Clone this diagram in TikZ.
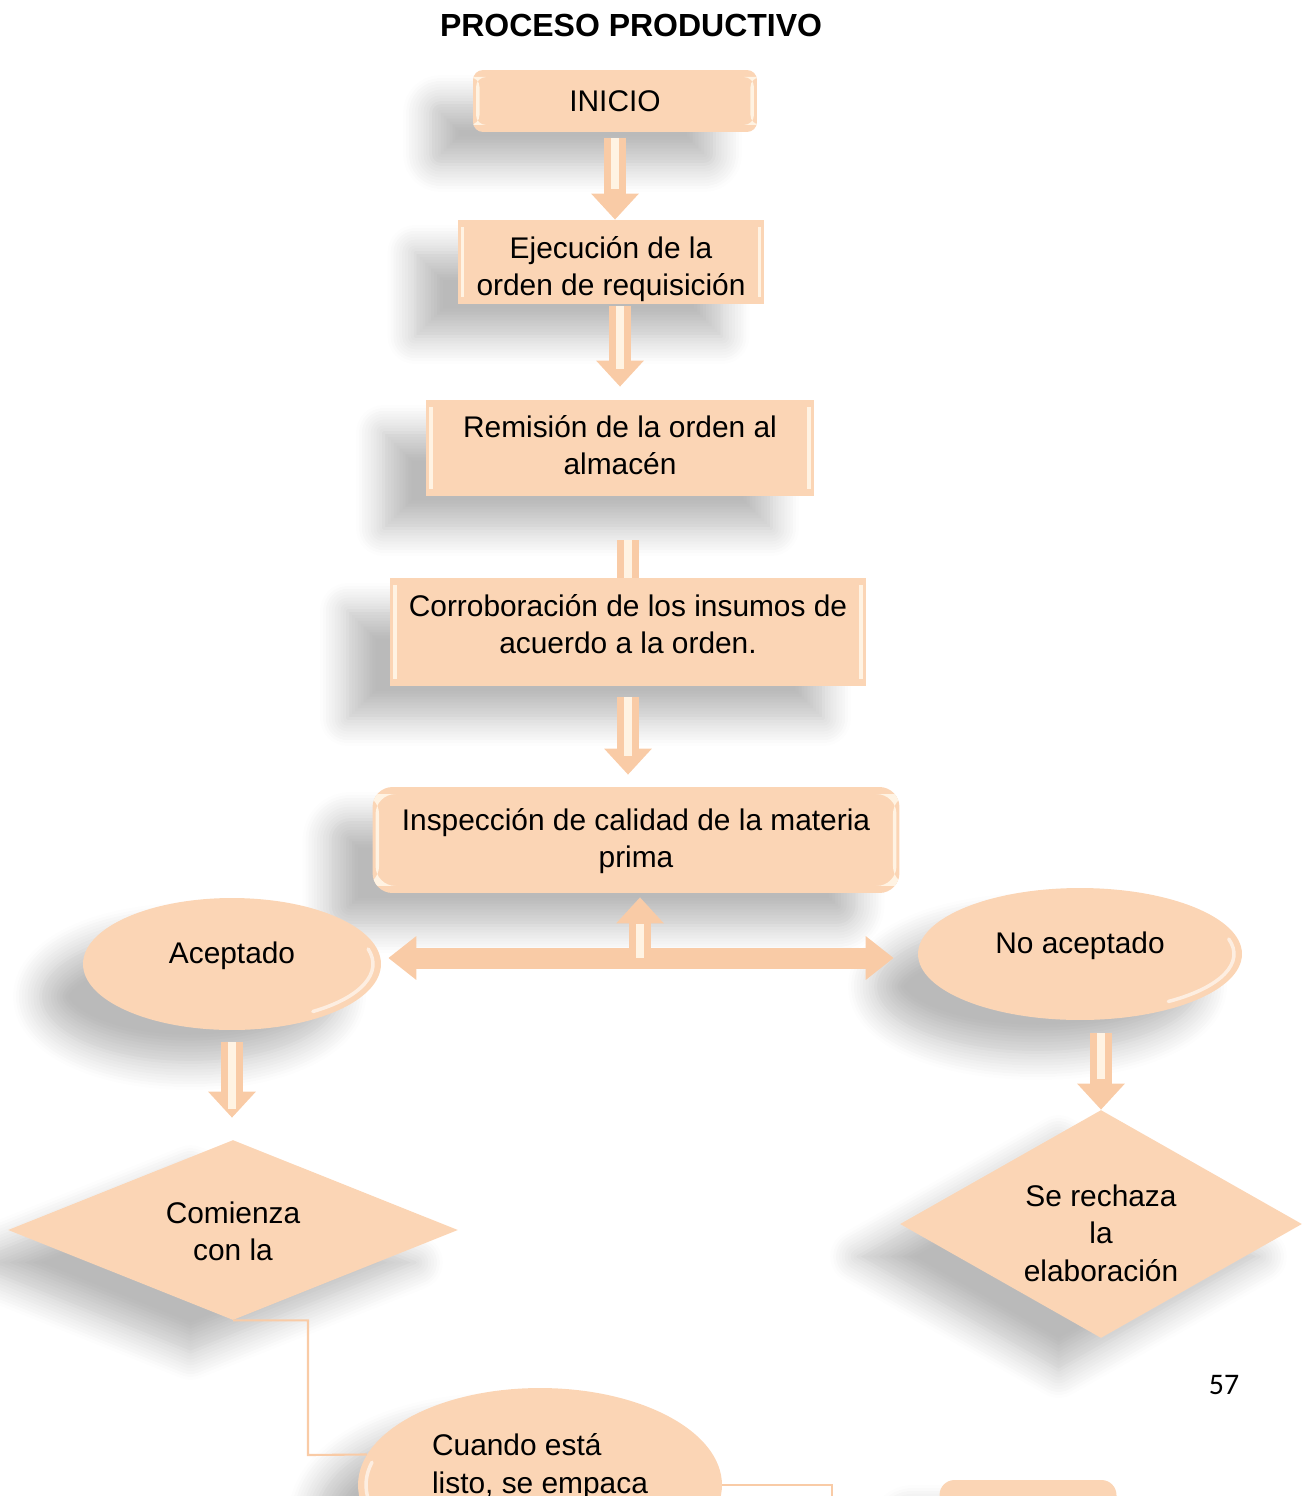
\documentclass[tikz,border=0pt]{standalone}
\usepackage{fontspec}
\setmainfont{Liberation Sans}
\newfontfamily\pagefont{Carlito}
\usetikzlibrary{shapes.geometric,shadows.blur,arrows.meta}

\definecolor{peach}{HTML}{FBD5B5}
\definecolor{peachd}{HTML}{F9CBA6}
\definecolor{cream}{HTML}{FFF3E3}

% texto de nodo desplazado en vertical
\newcommand\nodetext[3][c]{\raisebox{#2}[0pt][0pt]{\begin{tabular}{@{}#1@{}}#3\end{tabular}}}

\tikzset{
  flowbox/.style={fill=peach, draw=none, align=center, inner sep=0pt,
    font=\fontsize{17}{21.2}\selectfont,
    blur shadow={shadow xshift=-0.85cm, shadow yshift=-0.65cm,
      shadow blur radius=0.55cm, shadow blur steps=10, shadow opacity=27}},
  bevel/.style={path picture={
    \fill[cream] ([xshift=0.06cm,yshift=0.14cm]path picture bounding box.south west)
      rectangle ([xshift=0.13cm,yshift=-0.14cm]path picture bounding box.north west);
    \fill[cream] ([xshift=-0.13cm,yshift=0.14cm]path picture bounding box.south east)
      rectangle ([xshift=-0.06cm,yshift=-0.14cm]path picture bounding box.north east);}},
  gloss/.style n args={4}{path picture={
    \draw[white, opacity=0.6, line width=0.07cm, line cap=round]
      (path picture bounding box.center) ++(#3:#1 and #2)
      arc[start angle=#3, end angle=#4, x radius=#1, y radius=#2];}},
  vconn/.style={draw=peachd, line width=0.44cm,
    -{Triangle[length=0.52cm, width=0.92cm]},
    postaction={draw=cream, line width=0.16cm, -, shorten >=0.62cm}},
  hconn/.style={draw=peachd, line width=0.42cm,
    {Triangle[length=0.56cm, width=0.84cm]}-{Triangle[length=0.56cm, width=0.84cm]}},
  thinline/.style={draw=peachd, line width=1.2pt}
}

\begin{document}
\begin{tikzpicture}[x=0.02cm, y=-0.02cm]
  \useasboundingbox (0,0) rectangle (1311,1496);

  % titulo y pagina
  \node[font=\bfseries\fontsize{18.2}{21}\selectfont] (titulo) at (631,25) {PROCESO PRODUCTIVO};
  \node[font=\pagefont\fontsize{17}{20}\selectfont] (pagina) at (1224,1385) {57};

  % cajas del proceso
  \node[flowbox, bevel, rounded corners=0.2cm, minimum width=5.68cm, minimum height=1.24cm]
    (inicio) at (615,101) {INICIO};
  \node[flowbox, bevel, minimum width=6.14cm, minimum height=1.68cm]
    (ejecucion) at (611,262) {\nodetext{-0.3cm}{Ejecución de la\\orden de requisición}};
  \node[flowbox, bevel, minimum width=7.76cm, minimum height=1.92cm]
    (remision) at (620,448) {\nodetext{-0.17cm}{Remisión de la orden al\\almacén}};
  \node[flowbox, bevel, minimum width=9.52cm, minimum height=2.16cm]
    (corroboracion) at (628,632) {\nodetext{-0.07cm}{Corroboración de los insumos de\\acuerdo a la orden.}};
  \node[flowbox, bevel, rounded corners=0.4cm, minimum width=10.54cm, minimum height=2.12cm]
    (inspeccion) at (636,840) {\nodetext{-0.18cm}{Inspección de calidad de la materia\\prima}};

  % resultados
  \node[flowbox, ellipse, gloss={2.82cm}{1.16cm}{-55}{15}, minimum width=5.96cm, minimum height=2.64cm]
    (aceptado) at (232,964) {\nodetext{0cm}{Aceptado}};
  \node[flowbox, ellipse, gloss={3.08cm}{1.16cm}{-55}{15}, minimum width=6.48cm, minimum height=2.64cm]
    (noaceptado) at (1080,954) {\nodetext{0cm}{No aceptado}};
  \node[flowbox, diamond, minimum width=9cm, minimum height=3.6cm]
    (comienza) at (233,1230) {\nodetext{-0.25cm}{Comienza\\con la}};
  \node[flowbox, diamond, minimum width=8.04cm, minimum height=4.56cm]
    (rechaza) at (1101,1224) {\nodetext{-0.4cm}{Se rechaza\\la\\elaboración}};
  \node[flowbox, ellipse, gloss={3.48cm}{1.76cm}{165}{215}, minimum width=7.28cm, minimum height=3.88cm]
    (cuando) at (540,1485) {\nodetext[l]{0.21cm}{Cuando está\\listo, se empaca}};
  \node[flowbox, rounded corners=0.3cm, minimum width=3.54cm, minimum height=2cm]
    (empaque) at (1028,1530) {};

  % flechas
  \draw[vconn, shorten <=0.12cm] (inicio.south) -- (inicio.south |- ejecucion.north);
  \draw[vconn, shorten <=0.04cm, shorten >=0.26cm] (remision.north |- ejecucion.south) -- (remision.north);
  \draw[draw=peachd, line width=0.44cm, shorten <=0.88cm,
    postaction={draw=cream, line width=0.16cm}] (corroboracion.north |- remision.south) -- (corroboracion.north);
  \draw[vconn, shorten <=0.22cm, shorten >=0.24cm] (corroboracion.south) -- (corroboracion.south |- inspeccion.north);

  \coordinate (cruce) at (640,958);
  \draw[hconn, shorten <=0.14cm, shorten >=0.48cm] (cruce -| aceptado.east) -- (cruce -| noaceptado.west);
  \draw[vconn, shorten >=0.08cm] (cruce) -- (cruce |- inspeccion.south);

  \draw[vconn, shorten <=0.24cm, shorten >=0.44cm] (aceptado.south) -- (aceptado.south |- comienza.north);
  \draw[vconn, shorten <=0.26cm] (rechaza.north |- noaceptado.south) -- (rechaza.north);

  % lineas de conexion
  \coordinate (codo1) at (308,1455);
  \coordinate (codo2) at (832,1540);
  \draw[thinline] (comienza.south) -- (comienza.south -| codo1) -- (codo1) -- (cuando.170);
  \draw[thinline] (cuando.east) -| (codo2);
\end{tikzpicture}
\end{document}
